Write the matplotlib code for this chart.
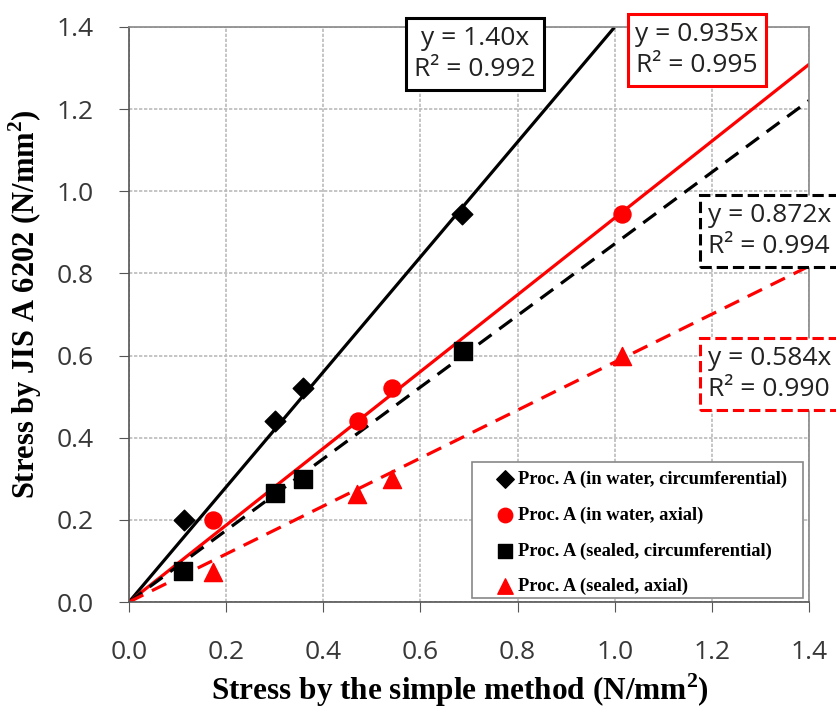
import matplotlib
matplotlib.use("Agg")
import matplotlib.pyplot as plt
import matplotlib.patches as mpatches
import numpy as np

plt.rcParams["mathtext.fontset"] = "custom"
plt.rcParams["mathtext.rm"] = "Liberation Serif:bold"
plt.rcParams["mathtext.bf"] = "Liberation Serif:bold"

# data
water_circ_x = [0.113, 0.300, 0.358, 0.686]
water_circ_y = [0.200, 0.440, 0.520, 0.944]
water_axial_x = [0.173, 0.471, 0.541, 1.015]
water_axial_y = [0.200, 0.440, 0.520, 0.944]
sealed_circ_x = [0.111, 0.300, 0.358, 0.688]
sealed_circ_y = [0.075, 0.265, 0.300, 0.610]
sealed_axial_x = [0.173, 0.469, 0.541, 1.015]
sealed_axial_y = [0.073, 0.263, 0.300, 0.600]
slopes = [1.40, 0.935, 0.872, 0.584]
r2 = [0.992, 0.995, 0.994, 0.990]
labels = ["Proc. A (in water, circumferential)", "Proc. A (in water, axial)",
          "Proc. A (sealed, circumferential)", "Proc. A (sealed, axial)"]
ticks = [0.0, 0.2, 0.4, 0.6, 0.8, 1.0, 1.2, 1.4]

W, H = 837, 709
fig = plt.figure(figsize=(8.37, 7.09), dpi=100)
ax = fig.add_axes([129/W, 1-602/H, (809-129)/W, (602-27)/H])
ax.set_xlim(0, 1.4)
ax.set_ylim(0, 1.4)
ax.set_xticks(ticks)
ax.set_yticks(ticks)
ax.set_xticklabels([f"{t:.1f}" for t in ticks])
ax.set_yticklabels([f"{t:.1f}" for t in ticks])
ax.grid(True, color="#bbbbbb", linestyle=(0, (2, 1)), linewidth=1.2)
ax.set_axisbelow(True)
for s in ax.spines.values():
    s.set_color("#888888")
    s.set_linewidth(1.2)
ax.spines["left"].set_color("#555555")
ax.spines["bottom"].set_color("#555555")
ax.tick_params(axis="both", length=7.5, color="#555555", labelsize=19, labelcolor="#383838")
ax.tick_params(axis="x", pad=20)
ax.tick_params(axis="y", pad=18)
for lab in ax.get_xticklabels() + ax.get_yticklabels():
    lab.set_family("Open Sans")

xx = np.linspace(0, 1.4, 300)
styles = [("black", "-"), ("red", "-"), ("black", (0, (5, 3))), ("red", (0, (5, 3)))]
for (c, ls), m in zip(styles, slopes):
    yy = m * xx
    mask = yy <= 1.4
    ax.plot(xx[mask], yy[mask], color=c, linestyle=ls, linewidth=2.3, zorder=2)

ax.scatter(water_circ_x, water_circ_y, marker="D", s=110, color="black", zorder=3, label=labels[0])
ax.scatter(water_axial_x, water_axial_y, marker="o", s=150, color="red", zorder=3, label=labels[1])
ax.scatter(sealed_circ_x, sealed_circ_y, marker="s", s=150, color="black", zorder=3, label=labels[2])
ax.scatter(sealed_axial_x, sealed_axial_y, marker="^", s=170, color="red", zorder=3, label=labels[3])

# legend frame drawn separately so its padding matches the reference
frame = mpatches.Rectangle((472/W, 1-598/H), (803-472)/W, (598-462)/H, transform=fig.transFigure,
                           facecolor="white", edgecolor="#888888", linewidth=1.2, zorder=4.5, clip_on=False)
ax.add_patch(frame)
leg = ax.legend(loc="lower left", bbox_to_anchor=(490/W, 113.6/H), bbox_transform=fig.transFigure,
                prop={"family": "Liberation Serif", "weight": "bold", "size": 13.3},
                frameon=False, borderpad=0, labelspacing=1.0,
                handletextpad=-0.09, handlelength=1.6, markerscale=0.85, borderaxespad=0)
leg.set_zorder(5)

def fpos(px, py):
    return (px / W, 1 - py / H)

boxes = [
    (f"y = {slopes[0]:.2f}x\nR² = {r2[0]:.3f}", 475, 54, "black", "-", "center"),
    (f"y = {slopes[1]:.3f}x\nR² = {r2[1]:.3f}", 697, 50, "red", "-", "center"),
    (f"y = {slopes[2]:.3f}x\nR² = {r2[2]:.3f}", 708, 231, "black", "--", "left"),
    (f"y = {slopes[3]:.3f}x\nR² = {r2[3]:.3f}", 708, 374, "red", "--", "left"),
]
for txt, px, py, c, ls, ha in boxes:
    fig.text(*fpos(px, py), txt, ha=ha, va="center", fontsize=19, family="Open Sans",
             color="#222222", linespacing=1.3,
             bbox=dict(boxstyle="square,pad=0.3", facecolor="white", edgecolor=c, linewidth=2.2, linestyle=ls),
             zorder=5)

ax.set_xlabel("Stress by the simple method (N/mm$^{2}$)", family="Liberation Serif", weight="bold", fontsize=22.5)
ax.set_ylabel("Stress by JIS A 6202 (N/mm$^{2}$)", family="Liberation Serif", weight="bold", fontsize=22)
ax.xaxis.set_label_coords(0.487, -0.121)
ax.yaxis.set_label_coords(-0.125, 0.517)
fig.savefig("out.png", dpi=100)
